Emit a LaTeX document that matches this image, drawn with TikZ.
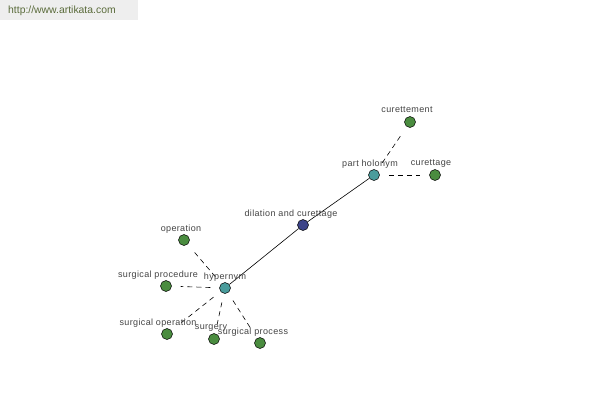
\documentclass[tikz,border=0pt]{standalone}
\usepackage{fontspec}
\setmainfont{Liberation Sans}
\definecolor{leaf}{HTML}{4A8C3F}
\definecolor{hub}{HTML}{4A9C9C}
\definecolor{core}{HTML}{3C4488}
\definecolor{wmbg}{HTML}{EEEEEE}
\definecolor{wmtx}{HTML}{5A6B3A}
\definecolor{lbl}{HTML}{444444}
\begin{document}
\begin{tikzpicture}[x=1pt,y=-1pt,
  dot/.style={circle,draw=black,line width=0.5pt,minimum size=11pt,inner sep=0pt},
  leafdot/.style={dot,fill=leaf},
  hubdot/.style={dot,fill=hub},
  coredot/.style={dot,fill=core},
  lab/.style={font=\fontsize{9}{10}\selectfont\addfontfeature{LetterSpace=4},text=lbl,inner sep=0pt},
  rel/.style={dash pattern=on 5pt off 4pt,line width=0.6pt,shorten <=9pt,shorten >=9pt},
  link/.style={line width=0.6pt}]
\useasboundingbox (0,0) rectangle (600,400);
\fill[white] (0,0) rectangle (600,400);
\fill[wmbg] (0,0) rectangle (138,20);
\node[font=\fontsize{10.4}{11}\selectfont,text=wmtx,anchor=west,inner sep=0pt] (wm) at (8,11) {http://www.artikata.com};

\node[hubdot] (hyp) at (225,288) {};
\node[coredot] (dc) at (303,225) {};
\node[hubdot] (ph) at (374,175) {};
\node[leafdot] (cm) at (410,122) {};
\node[leafdot] (ct) at (435,175) {};
\node[leafdot] (op) at (184,240) {};
\node[leafdot] (sp) at (166,286) {};
\node[leafdot] (so) at (167,334) {};
\node[leafdot] (sg) at (214,339) {};
\node[leafdot] (spr) at (260,343) {};

\draw[link] (hyp) -- (dc);
\draw[link] (dc) -- (ph);
\draw[rel] (ph) -- (cm);
\draw[rel] (ph) -- (ct);
\draw[rel] (hyp) -- (op);
\draw[rel] (hyp) -- (sp);
\draw[rel] (hyp) -- (so);
\draw[rel] (hyp) -- (sg);
\draw[rel] (hyp) -- (spr);

\node[lab] (lhyp) at (225,277) {hypernym};
\node[lab] (ldc) at (291,214) {dilation and curettage};
\node[lab] (lph) at (370,164) {part holonym};
\node[lab] (lcm) at (407,110) {curettement};
\node[lab] (lct) at (431,164) {curettage};
\node[lab] (lop) at (181,229) {operation};
\node[lab] (lsp) at (158,275) {surgical procedure};
\node[lab] (lso) at (158,323) {surgical operation};
\node[lab] (lsg) at (211,328) {surgery};
\node[lab] (lspr) at (253,332) {surgical process};
\end{tikzpicture}
\end{document}
